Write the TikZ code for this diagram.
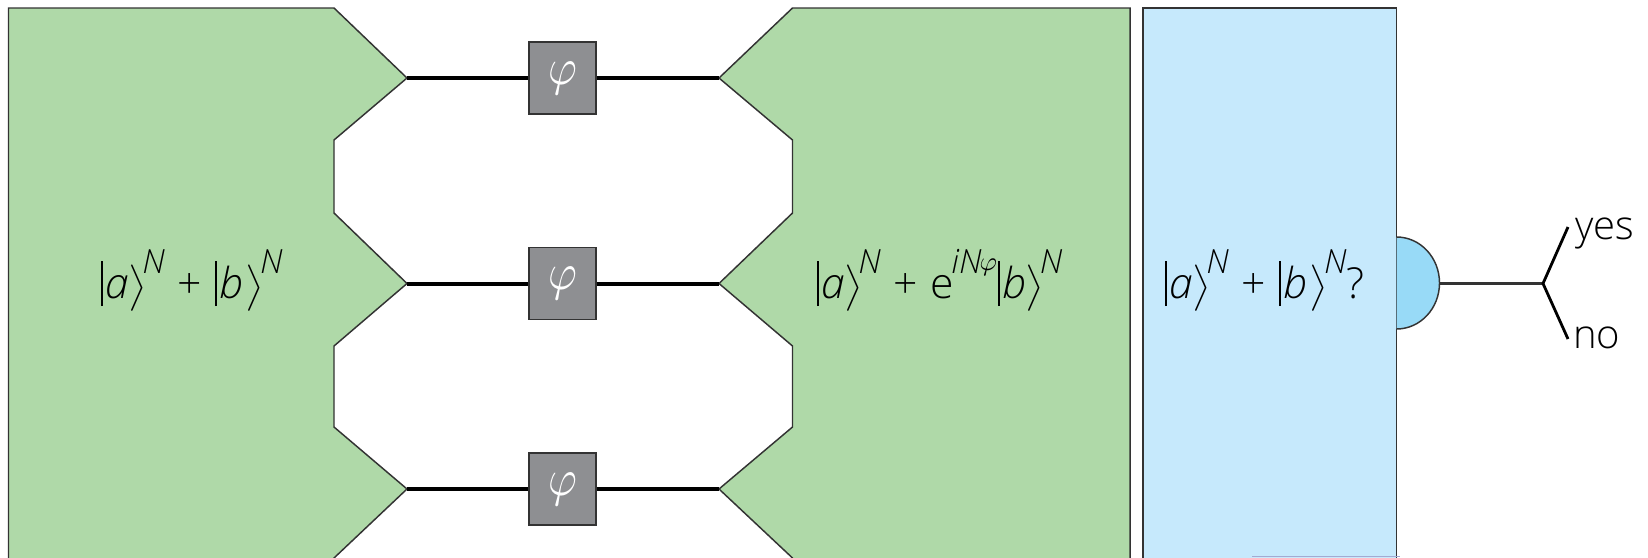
\documentclass[tikz,border=0pt]{standalone}
\usepackage{amsmath}
\usepackage{graphicx}
\usepackage[no-math]{fontspec}
\setmainfont{Open Sans Light}[ItalicFont={Open Sans Light Italic}]
\definecolor{greenfill}{HTML}{AFD9A8}
\definecolor{bluefill}{HTML}{C6E9FC}
\definecolor{detfill}{HTML}{98DAF7}
\definecolor{boxfill}{HTML}{8E8F92}
\definecolor{edge}{HTML}{333333}
\definecolor{strip}{HTML}{A3AAD2}
\newcommand{\mainsize}{\fontsize{30}{36}\selectfont}
\newcommand{\formsize}{\fontsize{32}{36}\selectfont}
\newcommand{\barr}{\rule[-6pt]{1.5pt}{34pt}}
\newcommand{\angr}{\hspace{-1pt}\scalebox{2.9}{\normalsize$\big\rangle$}\hspace{-3pt}}
\newcommand{\supN}[1]{\raisebox{18.5pt}{\fontsize{25}{26}\selectfont\textit{#1}}}
\newcommand{\ketN}[1]{\barr\hspace{2pt}\textit{#1}\angr\supN{N}}
\newcommand{\ketB}{\barr\hspace{2pt}\textit{b}\hspace{3pt}\angr\supN{N}}
\newcommand{\bigphi}{\raisebox{-2pt}{\scalebox{3.3}[3.9]{\normalsize$\varphi$}}}
\newcommand{\supphi}{\raisebox{2pt}{\scalebox{2.0}{\normalsize$\varphi$}}}
\newcommand{\plusgap}{\hspace{9.5pt}+\hspace{9.5pt}}
\tikzset{
  x=0.75pt,y=-0.75pt,
  outline/.style={draw=edge,line width=1.1pt,line join=miter},
  greenshape/.style={outline,fill=greenfill},
  blueshape/.style={outline,fill=bluefill},
  phibox/.style={draw=edge,line width=1.1pt,fill=boxfill,minimum width=50.2pt,minimum height=54.2pt,inner sep=0pt,text=white},
  wire/.style={line width=3pt,black},
  thinwire/.style={line width=2.4pt,edge},
  fork/.style={line width=2.1pt,black},
  label/.style={inner sep=0pt,anchor=base west,font=\mainsize},
  formula/.style={inner sep=0pt,anchor=base west,font=\formsize},
}
\begin{document}
\begin{tikzpicture}
\useasboundingbox (0,0) rectangle (1648,557);
\clip (0,0) rectangle (1648,557);
\fill[white] (0,0) rectangle (1648,557);
\coordinate (L1) at (407,78);
\coordinate (L2) at (407,283.5);
\coordinate (L3) at (407,489);
\coordinate (R1) at (719,78);
\coordinate (R2) at (719,283.5);
\coordinate (R3) at (719,489);
\draw[greenshape] (8.5,8) -- (334,8) -- (L1) -- (334,140) -- (334,213) -- (L2) -- (334,346) -- (334,427) -- (L3) -- (334,558) -- (334,565) -- (8.5,565) -- cycle;
\draw[greenshape] (1130,8) -- (792.5,8) -- (R1) -- (792.5,140) -- (792.5,213) -- (R2) -- (792.5,346) -- (792.5,427) -- (R3) -- (792.5,558) -- (792.5,565) -- (1130,565) -- cycle;
\node[phibox] (P1) at (562.5,78) {\bigphi};
\node[phibox] (P2) at (562.5,283.5) {\bigphi};
\node[phibox] (P3) at (562.5,489) {\bigphi};
\foreach \i in {1,2,3}{
  \draw[wire] (L\i) -- (P\i);
  \draw[wire] (P\i) -- (R\i);
}
\draw[blueshape] (1143,8) rectangle (1396.5,565);
\fill[strip] (1252,555.6) rectangle (1400,557);
\coordinate (DT) at (1396.5,237);
\coordinate (DB) at (1396.5,329);
\coordinate (DE) at (1440,283.5);
\coordinate (FK) at (1543,283.5);
\coordinate (FY) at (1568,227);
\coordinate (FN) at (1568,339);
\fill[detfill] (DT) arc[start angle=90,end angle=-90,x radius=43,y radius=-46];
\draw[outline] (DT) arc[start angle=90,end angle=-90,x radius=43,y radius=-46];
\draw[thinwire] (DE) -- (FK);
\draw[fork] (FY) -- (FK) -- (FN);
\node[formula] (T1) at (101,298) {\ketN{a}\plusgap\ketB};
\node[formula] (T2) at (817,298) {\ketN{a}\plusgap e\hspace{-2pt}\raisebox{18.5pt}{\fontsize{25}{26}\selectfont\textit{iN}\hspace{-1.5pt}\supphi}\hspace{1pt}\ketN{b}};
\node[formula] (T3) at (1165,298) {\ketN{a}\plusgap\ketB?};
\node[label] (Y) at (1575,239) {yes};
\node[label] (N) at (1573,348) {no};
\end{tikzpicture}
\end{document}
